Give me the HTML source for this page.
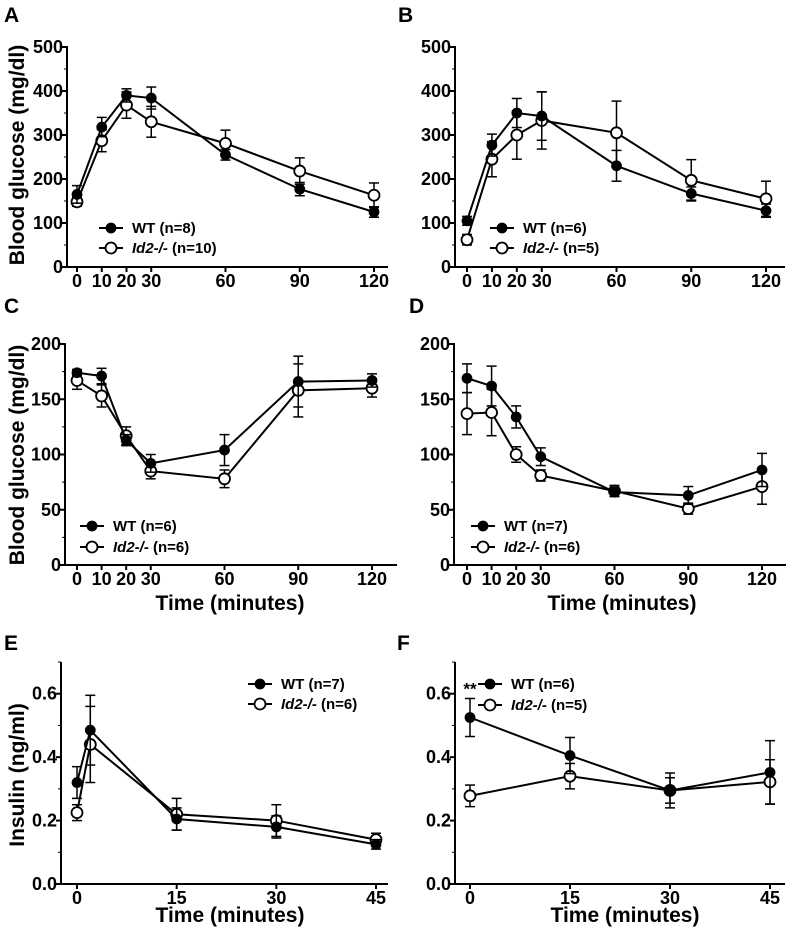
<!DOCTYPE html>
<html><head><meta charset="utf-8"><style>
body{margin:0;background:#fff;}
svg text{font-family:"Liberation Sans",Arial,sans-serif;font-weight:bold;fill:#000;}
</style></head><body>
<svg id="fig" width="793" height="938" viewBox="0 0 793 938" xmlns="http://www.w3.org/2000/svg"></svg>
<script>
// ---- data ----
const gttTimes=[0,10,20,30,60,90,120];
const aWT=[165,318,390,384,255,177,125];
const aWTe=[20,22,15,25,12,15,12];
const aKO=[148,287,368,330,281,218,163];
const aKOe=[10,25,30,35,30,30,28];
const bWT=[105,277,350,343,230,167,128];
const bWTe=[10,25,33,55,35,15,15];
const bKO=[62,245,300,333,305,197,155];
const bKOe=[12,40,55,65,72,47,40];
const cWT=[174,171,113,92,104,166,167];
const cWTe=[3,7,5,8,14,23,6];
const cKO=[167,153,117,85,78,158,160];
const cKOe=[8,10,8,7,8,24,8];
const dWT=[169,162,134,98,66,63,86];
const dWTe=[13,18,10,8,4,8,15];
const dKO=[137,138,100,81,67,51,71];
const dKOe=[19,21,7,5,5,5,16];
const eTimes=[0,2,15,30,45];
const eWT=[0.32,0.485,0.205,0.18,0.125];
const eWTe=[0.05,0.11,0.035,0.035,0.015];
const eKO=[0.225,0.44,0.22,0.2,0.14];
const eKOe=[0.025,0.12,0.05,0.05,0.02];
const fTimes=[0,15,30,45];
const fWT=[0.525,0.405,0.295,0.352];
const fWTe=[0.06,0.057,0.055,0.1];
const fKO=[0.278,0.34,0.295,0.322];
const fKOe=[0.034,0.04,0.04,0.07];
const gttTicks=[0,10,20,30,60,90,120];
const insTicks=[0,15,30,45];
const glucTicksAB=[0,100,200,300,400,500];
const glucTicksCD=[0,50,100,150,200];
const insYTicks=["0.0","0.2","0.4","0.6"];

const NS="http://www.w3.org/2000/svg";
const svg=document.getElementById('fig');
function mk(tag,attrs,parent,name){const e=document.createElementNS(NS,tag);for(const k in attrs)e.setAttribute(k,attrs[k]);


(parent||svg).appendChild(e);return e;}

function panel(p){
  const g=mk('g',{},svg,'panel-'+p.id);
  const sx=v=>p.x0+(v-p.t0)/(p.t1-p.t0)*(p.x1-p.x0);
  const sy=v=>p.yb-(v-p.ymin)/(p.ymax-p.ymin)*(p.yb-p.yt);
  mk('text',{x:p.lx,y:p.ly,'font-size':21},g,'panel-label-'+p.id).textContent=p.id;
  mk('line',{x1:p.ax,y1:p.axTop,x2:p.ax,y2:p.yb+1,stroke:'#000','stroke-width':2},g,'y-axis');
  mk('line',{x1:p.ax,y1:p.yb,x2:p.axEnd,y2:p.yb,stroke:'#000','stroke-width':2},g,'x-axis');
  p.yticks.forEach(t=>{const y=sy(+t);
    mk('line',{x1:p.ax-5,y1:y,x2:p.ax,y2:y,stroke:'#000','stroke-width':2},g,'y-tick');
    mk('text',{x:p.ax-4,y:y+6,'font-size':18,'text-anchor':'end'},g,'y-tick-label').textContent=t;});
  p.minor.forEach(v=>{const y=sy(v);mk('line',{x1:p.ax-3,y1:y,x2:p.ax,y2:y,stroke:'#000','stroke-width':1},g,'y-minor-tick');});
  p.xticks.forEach(t=>{const x=sx(t);
    mk('line',{x1:x,y1:p.yb,x2:x,y2:p.yb+5,stroke:'#000','stroke-width':2},g,'x-tick');
    mk('text',{x:x,y:p.yb+20,'font-size':18,'text-anchor':'middle'},g,'x-tick-label').textContent=t;});
  if(p.xtitle) mk('text',{x:p.xtx,y:p.xty,'font-size':21,'text-anchor':'middle'},g,'x-axis-title').textContent='Time (minutes)';
  if(p.ytitle) mk('text',{x:0,y:0,'font-size':21,'text-anchor':'middle',transform:`translate(${p.ytx},${p.yty}) rotate(-90)`},g,'y-axis-title').textContent=p.ytitle;
  [[p.ko,p.koe,'#fff','ko'],[p.wt,p.wte,'#000','wt']].forEach(([vals,errs,fill,nm])=>{
    const pts=vals.map((v,i)=>[sx(p.times[i]),sy(v)]);
    mk('polyline',{points:pts.map(q=>q.join(',')).join(' '),fill:'none',stroke:'#000','stroke-width':2},g,nm+'-line');
    vals.forEach((v,i)=>{const x=sx(p.times[i]);const y1=sy(v+errs[i]),y2=sy(v-errs[i]);
      mk('line',{x1:x,y1:y1,x2:x,y2:y2,stroke:'#000','stroke-width':1.5},g,nm+'-error-bar');
      mk('line',{x1:x-5,y1:y1,x2:x+5,y2:y1,stroke:'#000','stroke-width':1.5},g,nm+'-error-cap');
      mk('line',{x1:x-5,y1:y2,x2:x+5,y2:y2,stroke:'#000','stroke-width':1.5},g,nm+'-error-cap');});
    pts.forEach(q=>mk('circle',{cx:q[0],cy:q[1],r:nm=='wt'?4.5:5.5,fill:fill,stroke:'#000','stroke-width':1.8},g,nm+'-point'));
  });
  [[p.legY1,'#000','WT',p.nWT,4.5],[p.legY2,'#fff','Id2-/-',p.nKO,5.5]].forEach(([y,f,lab,n,r],i)=>{
    mk('line',{x1:p.legX,y1:y,x2:p.legX+24,y2:y,stroke:'#000','stroke-width':2},g,'legend-line');
    mk('circle',{cx:p.legX+12,cy:y,r:r,fill:f,stroke:'#000','stroke-width':1.8},g,'legend-marker');
    const t=mk('text',{x:p.legX+33,y:y+5,'font-size':15},g,'legend-entry');
    const s=document.createElementNS(NS,'tspan');if(i==1)s.setAttribute('font-style','italic');s.textContent=lab;t.appendChild(s);
    t.appendChild(document.createTextNode(' (n='+n+')'));
  });
  return {sx,sy,g};
}
const mAB=[50,150,250,350,450],mCD=[25,75,125,175],mIns=[0.1,0.3,0.5,0.7];
panel({id:'A',lx:4,ly:22,ax:67,axTop:46,axEnd:388,x0:77,x1:374,t0:0,t1:120,yb:267,yt:47,ymin:0,ymax:500,
 yticks:glucTicksAB,minor:mAB,xticks:gttTicks,times:gttTimes,wt:aWT,wte:aWTe,ko:aKO,koe:aKOe,
 ytitle:'Blood glucose (mg/dl)',ytx:24,yty:155,legX:99,legY1:228,legY2:248,nWT:8,nKO:10});
panel({id:'B',lx:398,ly:22,ax:455,axTop:46,axEnd:785,x0:467,x1:766,t0:0,t1:120,yb:267,yt:47,ymin:0,ymax:500,
 yticks:glucTicksAB,minor:mAB,xticks:gttTicks,times:gttTimes,wt:bWT,wte:bWTe,ko:bKO,koe:bKOe,
 legX:490,legY1:228,legY2:248,nWT:6,nKO:5});
panel({id:'C',lx:4,ly:313,ax:65,axTop:343,axEnd:397,x0:77,x1:372,t0:0,t1:120,yb:565,yt:344,ymin:0,ymax:200,
 yticks:glucTicksCD,minor:mCD,xticks:gttTicks,times:gttTimes,wt:cWT,wte:cWTe,ko:cKO,koe:cKOe,
 ytitle:'Blood glucose (mg/dl)',ytx:24,yty:455,xtitle:1,xtx:230,xty:610,legX:80,legY1:526,legY2:547,nWT:6,nKO:6});
panel({id:'D',lx:409,ly:313,ax:454,axTop:343,axEnd:786,x0:467,x1:762,t0:0,t1:120,yb:565,yt:344,ymin:0,ymax:200,
 yticks:glucTicksCD,minor:mCD,xticks:gttTicks,times:gttTimes,wt:dWT,wte:dWTe,ko:dKO,koe:dKOe,
 xtitle:1,xtx:622,xty:610,legX:471,legY1:526,legY2:547,nWT:7,nKO:6});
panel({id:'E',lx:4,ly:650,ax:61,axTop:662,axEnd:388,x0:77,x1:376,t0:0,t1:45,yb:884,yt:662,ymin:0,ymax:0.7,
 yticks:insYTicks,minor:mIns,xticks:insTicks,times:eTimes,wt:eWT,wte:eWTe,ko:eKO,koe:eKOe,
 ytitle:'Insulin (ng/ml)',ytx:24,yty:775,xtitle:1,xtx:230,xty:922,legX:248,legY1:684,legY2:704,nWT:7,nKO:6});
const F=panel({id:'F',lx:397,ly:650,ax:455,axTop:662,axEnd:785,x0:470,x1:770,t0:0,t1:45,yb:884,yt:662,ymin:0,ymax:0.7,
 yticks:insYTicks,minor:mIns,xticks:insTicks,times:fTimes,wt:fWT,wte:fWTe,ko:fKO,koe:fKOe,
 xtitle:1,xtx:625,xty:922,legX:478,legY1:684,legY2:705,nWT:6,nKO:5});
mk('text',{x:F.sx(0),y:F.sy(fWT[0]+fWTe[0])-4,'font-size':17,'text-anchor':'middle'},F.g,'significance-marker').textContent='**';
</script>
</body></html>
